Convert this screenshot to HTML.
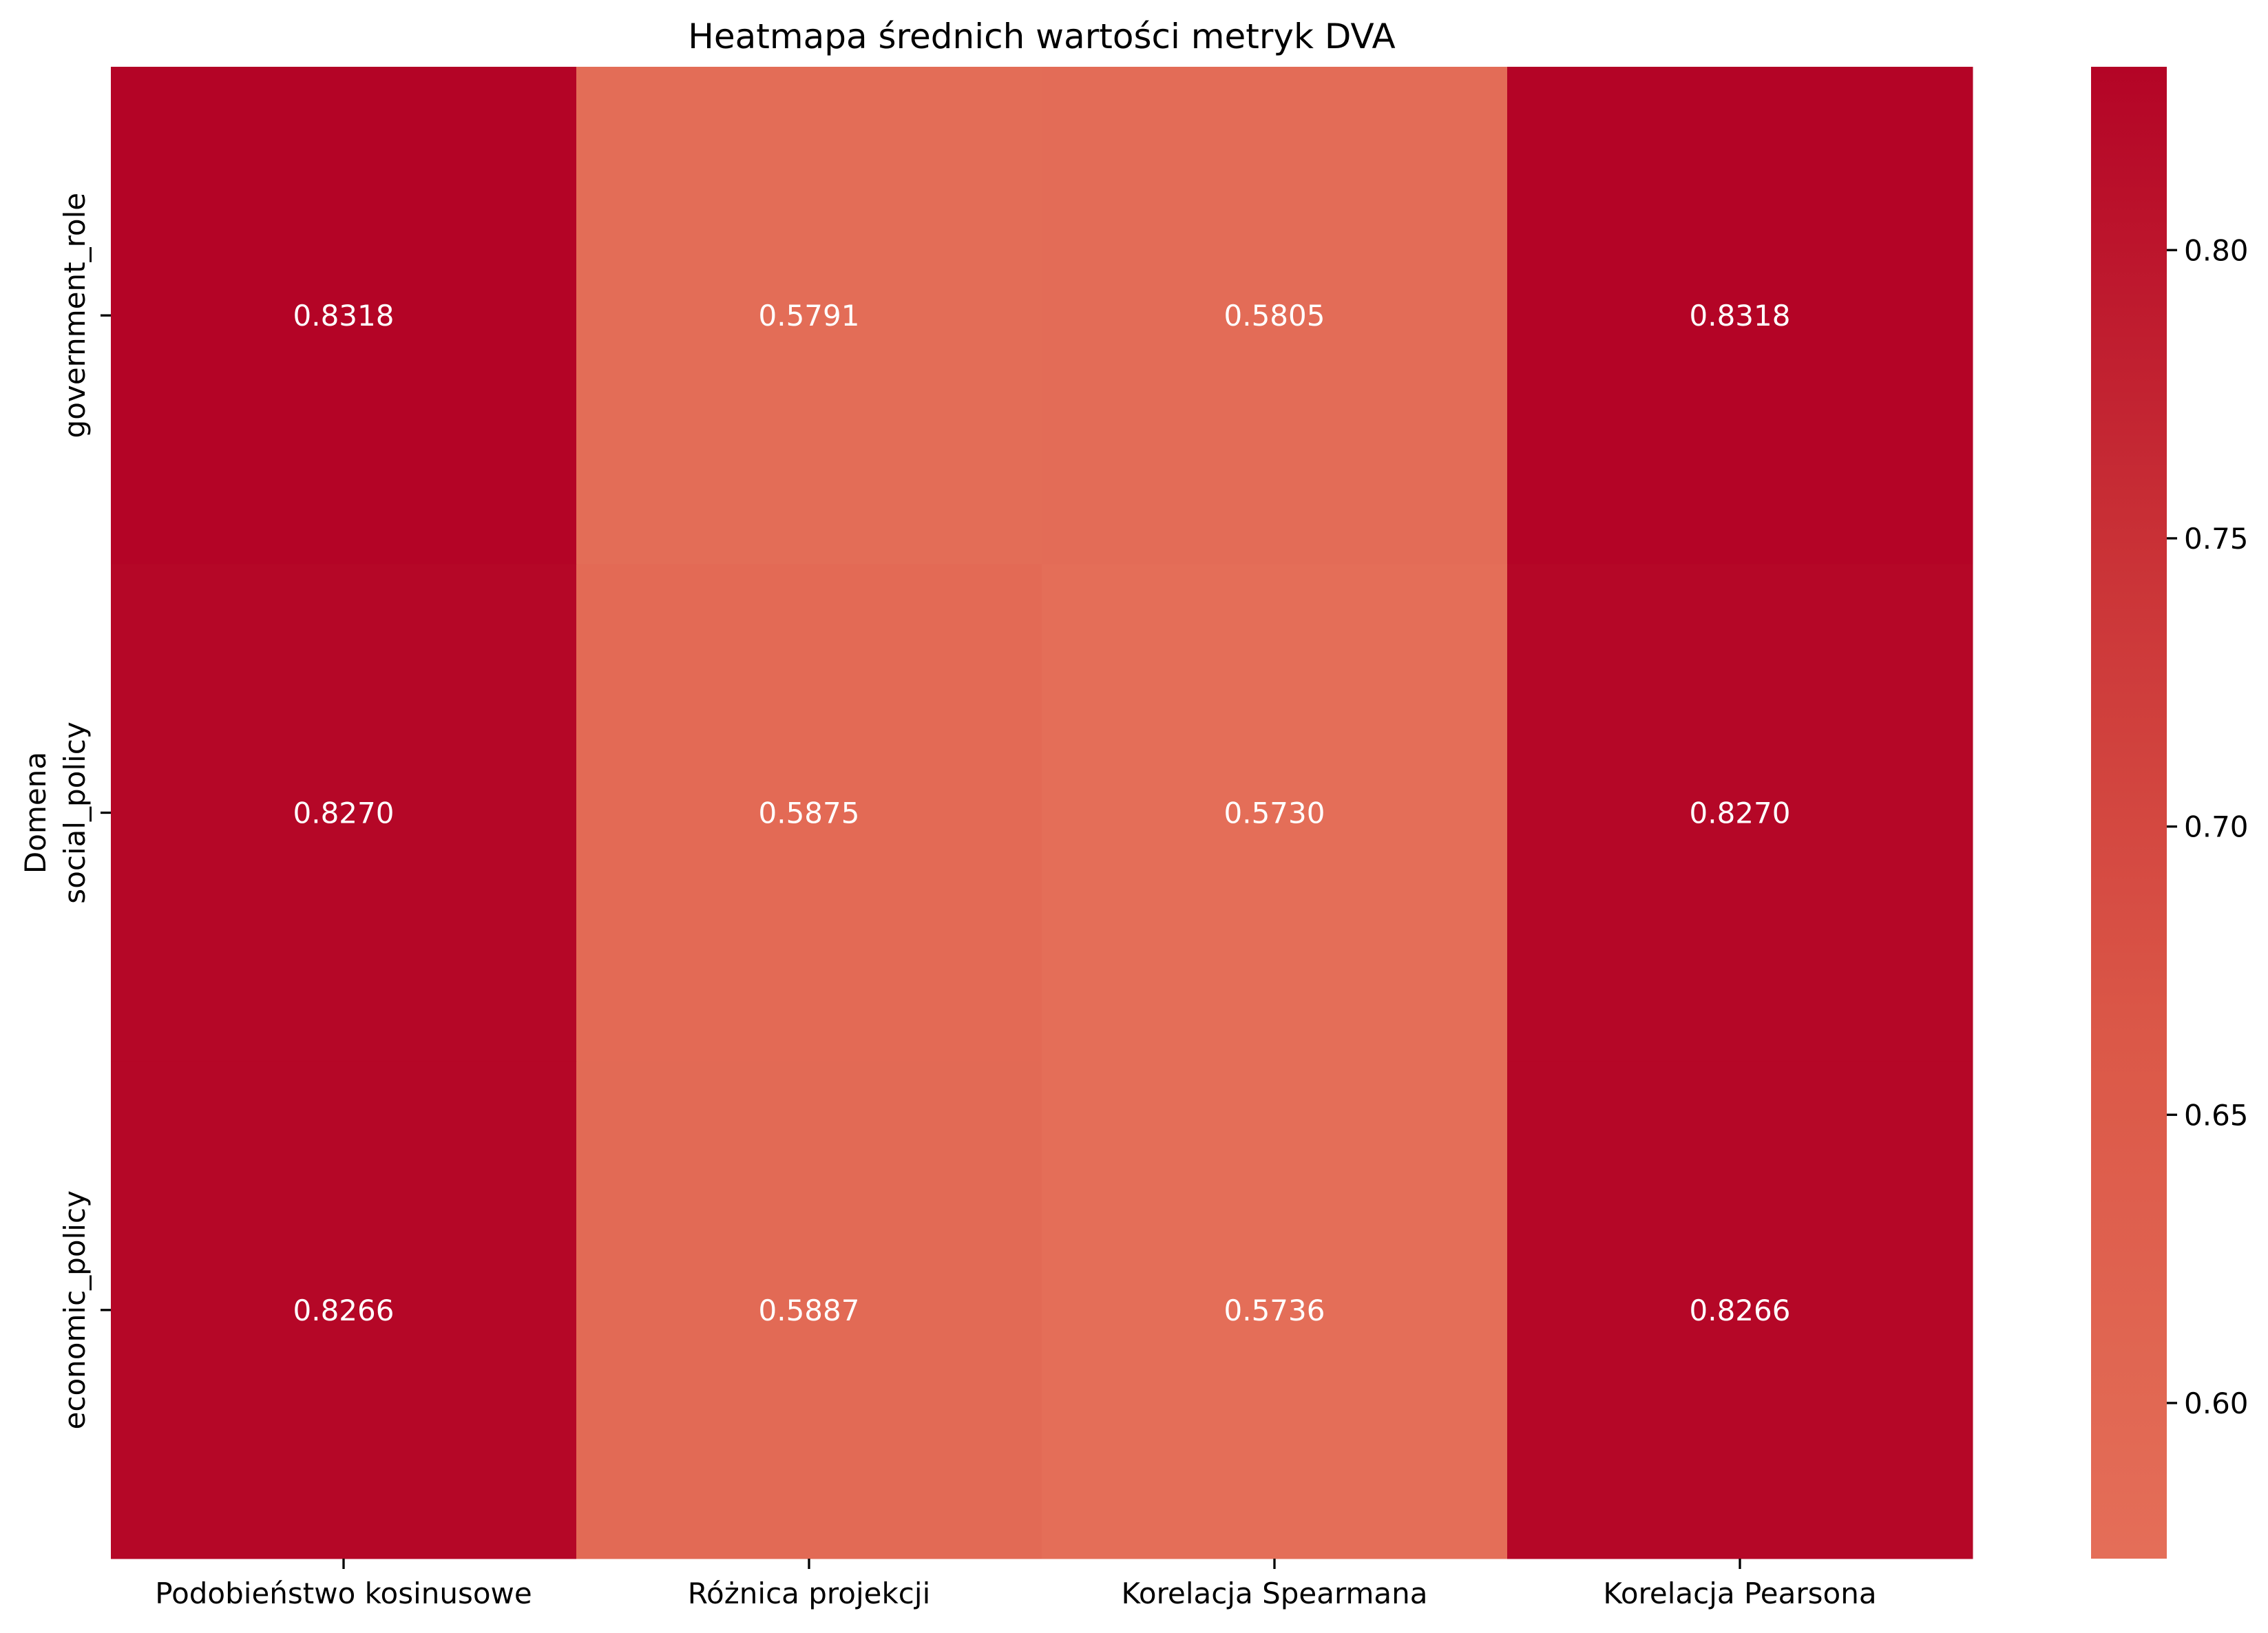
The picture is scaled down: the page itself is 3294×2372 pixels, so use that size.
<!DOCTYPE html>
<html><head><meta charset="utf-8"><style>
html,body{margin:0;padding:0;background:#fff}
svg text{font-family:"DejaVu Sans","Liberation Sans",sans-serif}
</style></head><body>
<svg id="chart" width="3294" height="2367" xmlns="http://www.w3.org/2000/svg">
<defs><linearGradient id="cbgrad" x1="0" y1="1" x2="0" y2="0"></linearGradient></defs>
<text x="1513" y="70" font-size="50" text-anchor="middle">Heatmapa średnich wartości metryk DVA</text>
<g id="cells"></g>
<g id="axes"></g>
</svg>
<script>
const rows = ["government_role","social_policy","economic_policy"];
const cols = ["Podobieństwo kosinusowe","Różnica projekcji","Korelacja Spearmana","Korelacja Pearsona"];
const valsGov = [0.8318,0.5791,0.5805,0.8318];
const valsSoc = [0.8270,0.5875,0.5730,0.8270];
const valsEco = [0.8266,0.5887,0.5736,0.8266];
const cbTicks = [0.60,0.65,0.70,0.75,0.80];
const matrix = [valsGov,valsSoc,valsEco];
const NS="http://www.w3.org/2000/svg";
const L=161,R=2865,T=97,B=2264;
const all=matrix.flat();const vmin=Math.min(...all),vmax=Math.max(...all);
const xScale=i=>L+i*(R-L)/cols.length;
const yScale=j=>T+j*(B-T)/rows.length;
const stops=[[0,[228,110,88]],[0.35,[219,88,72]],[0.65,[203,53,56]],[1,[180,4,38]]];
function color(v){let t=(v-vmin)/(vmax-vmin);t=Math.max(0,Math.min(1,t));
for(let k=0;k<stops.length-1;k++){const a=stops[k],b=stops[k+1];if(t<=b[0]){const f=(t-a[0])/(b[0]-a[0]);const c=a[1].map((x,i)=>Math.round(x+(b[1][i]-x)*f));return`rgb(${c})`;}}return"rgb(180,4,38)";}
function mk(tag,attrs,parent){const e=document.createElementNS(NS,tag);for(const k in attrs)e.setAttribute(k,attrs[k]);parent.appendChild(e);return e;}
const cells=document.getElementById('cells'),axes=document.getElementById('axes');
const cw=(R-L)/cols.length,ch=(B-T)/rows.length;
matrix.forEach((row,j)=>row.forEach((v,i)=>{
const r=mk('rect',{x:xScale(i),y:yScale(j),width:cw+0.5,height:ch+0.5,fill:color(v)},cells);


const t=mk('text',{x:xScale(i)+cw/2,y:yScale(j)+ch/2+15,'font-size':42,'text-anchor':'middle',fill:'#fff'},cells);
t.textContent=v.toFixed(4);


}));
cols.forEach((c,i)=>{const x=xScale(i)+cw/2;
mk('line',{x1:x,y1:B,x2:x,y2:B+15,stroke:'#000','stroke-width':3.3},axes);
const t=mk('text',{x:x,y:B+65,'font-size':42,'text-anchor':'middle'},axes);t.textContent=c;

});
rows.forEach((r,j)=>{const y=yScale(j)+ch/2;
mk('line',{x1:L-15,y1:y,x2:L,y2:y,stroke:'#000','stroke-width':3.3},axes);
const t=mk('text',{x:0,y:0,'font-size':42,'text-anchor':'middle',transform:`translate(123,${y}) rotate(-90)`},axes);t.textContent=r;

});
const yl=mk('text',{x:0,y:0,'font-size':42,'text-anchor':'middle',transform:`translate(66,${(T+B)/2}) rotate(-90)`},axes);yl.textContent="Domena";


const CL=3037,CR=3147;
const g=document.getElementById('cbgrad');
for(let k=0;k<=20;k++){const v=vmin+(vmax-vmin)*k/20;mk('stop',{offset:k/20,'stop-color':color(v)},g);}
const cb=mk('rect',{x:CL,y:T,width:CR-CL,height:B-T,fill:'url(#cbgrad)'},axes);


const cy=v=>B-(v-vmin)/(vmax-vmin)*(B-T);
cbTicks.forEach(v=>{const y=cy(v);
mk('line',{x1:CR,y1:y,x2:CR+15,y2:y,stroke:'#000','stroke-width':3.3},axes);
const t=mk('text',{x:CR+25,y:y+15,'font-size':42},axes);t.textContent=v.toFixed(2);

});
</script>
</body></html>
